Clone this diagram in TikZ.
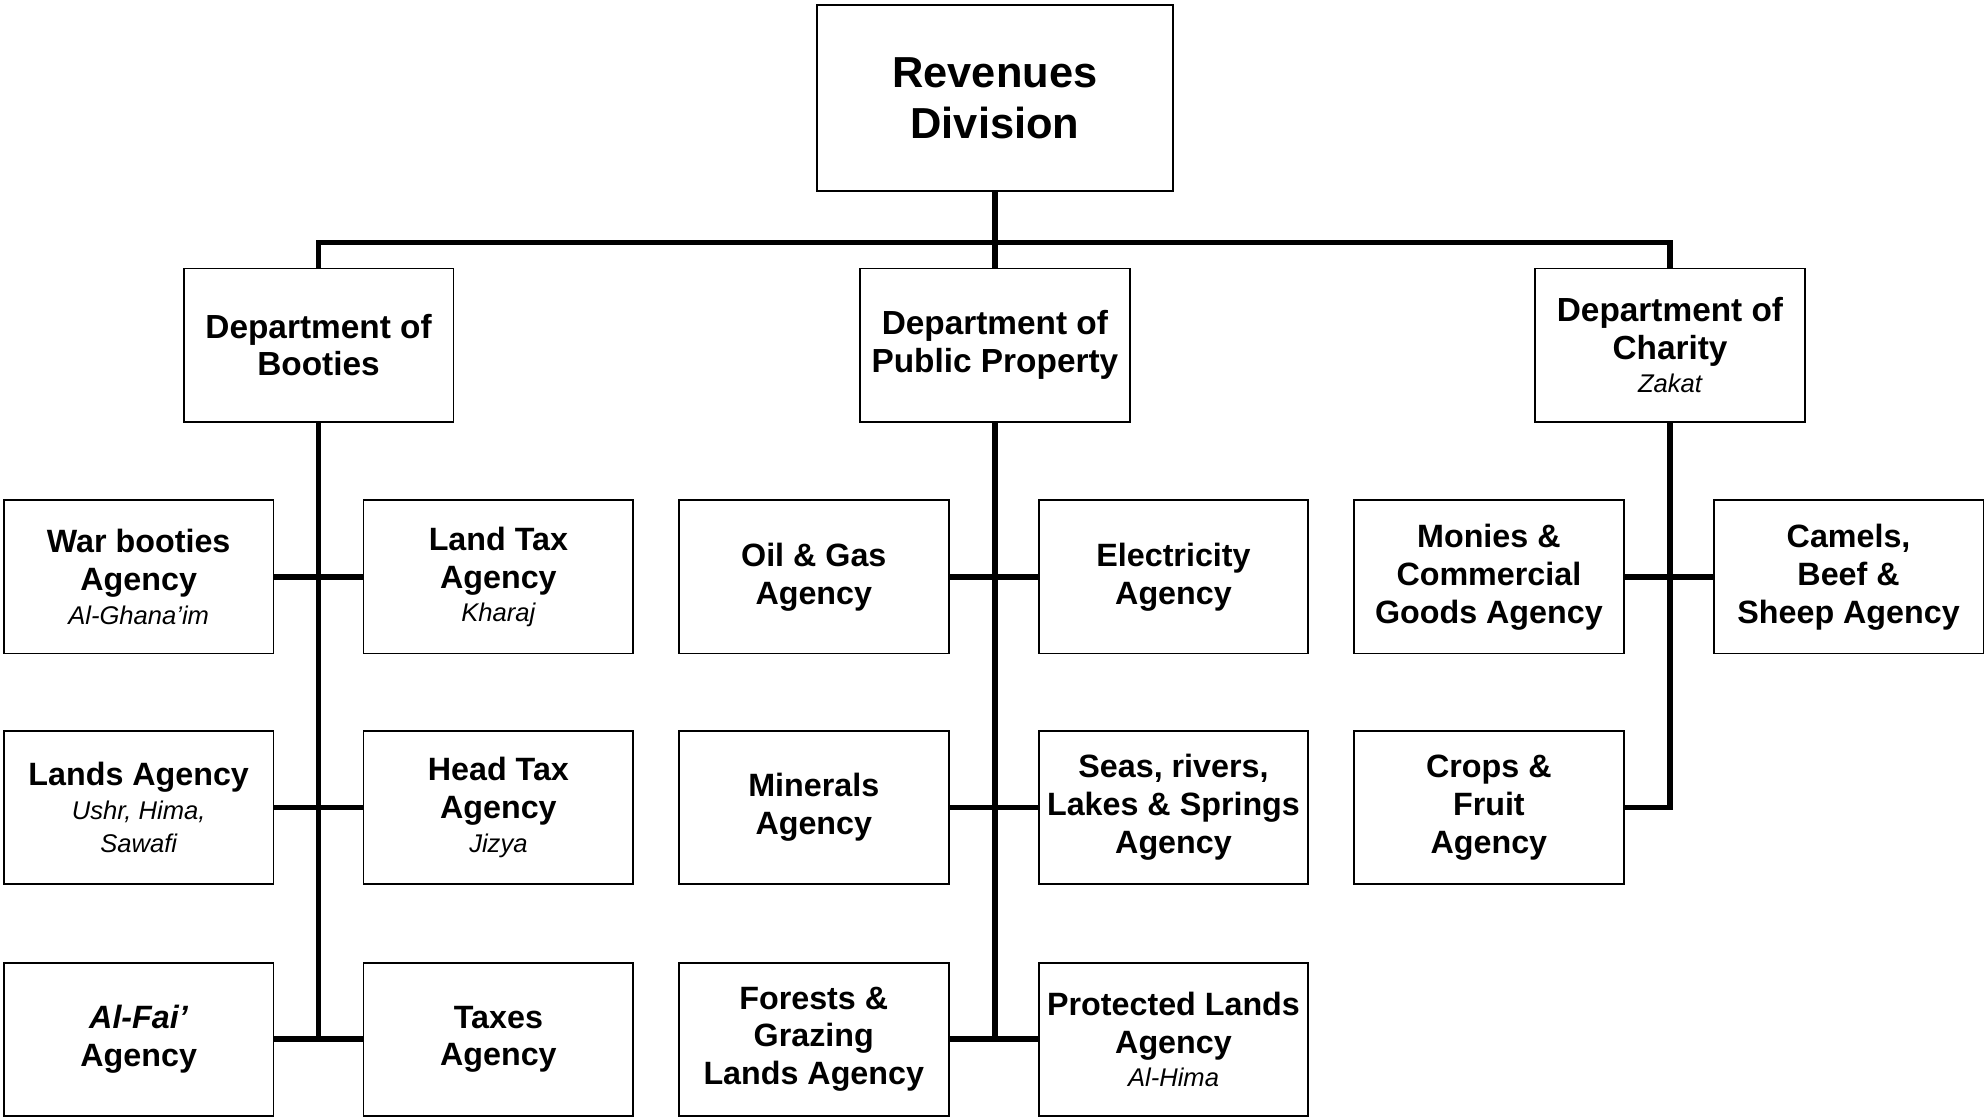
\documentclass[tikz,border=0pt]{standalone}
\usepackage{fontspec}
\setmainfont{Liberation Sans}

\newcommand{\subname}[1]{{\mdseries\itshape\fontsize{11.5}{14}\selectfont #1}}

\begin{document}
\begin{tikzpicture}[x=0.02cm, y=-0.02cm,
  box/.style={draw, line width=0.8pt, minimum width=4.26cm, minimum height=2.42cm,
    align=center, inner sep=1pt, font=\bfseries\fontsize{14.5}{17}\selectfont},
  dept/.style={box, font=\bfseries\fontsize{15}{17}\selectfont},
  top/.style={box, minimum width=5.62cm, minimum height=2.94cm,
    font=\bfseries\fontsize{19.5}{22.8}\selectfont},
  conn/.style={line width=2.5pt}]
\useasboundingbox (0,0) rectangle (1568,882);

\node[top] (rev) at (785.5,77.5) {Revenues\\Division};

\node[dept] (booties) at (251.5,272.5) {Department of\\Booties};
\node[dept] (public) at (785.5,272.5) {Department of\\Public Property};
\node[dept] (charity) at (1318.5,272.5) {Department of\\Charity\\[-2pt] \subname{Zakat}};

\node[box] (warb) at (109.5,455.5) {War booties\\Agency\\[-2pt] \subname{Al-Ghana’im}};
\node[box] (landtax) at (393.5,455.5) {Land Tax\\Agency\\[-2pt] \subname{Kharaj}};
\node[box] (lands) at (109.5,637.5) {Lands Agency\\[-2pt] \subname{Ushr,  Hima,}\\[-2pt] \subname{Sawafi}};
\node[box] (headtax) at (393.5,637.5) {Head Tax\\Agency\\[-2pt] \subname{Jizya}};
\node[box] (fai) at (109.5,820.5) {\textit{Al-Fai’}\\Agency};
\node[box] (taxes) at (393.5,820.5) {Taxes\\Agency};

\node[box] (oilgas) at (642.5,455.5) {Oil \& Gas\\Agency};
\node[box] (elec) at (926.5,455.5) {Electricity\\Agency};
\node[box] (minerals) at (642.5,637.5) {Minerals\\Agency};
\node[box] (seas) at (926.5,637.5) {Seas, rivers,\\Lakes \& Springs\\Agency};
\node[box] (forests) at (642.5,820.5) {Forests \&\\Grazing\\Lands Agency};
\node[box] (protected) at (926.5,820.5) {Protected Lands\\Agency\\[-2pt] \subname{Al-Hima}};

\node[box] (monies) at (1175.5,455.5) {Monies \&\\Commercial\\Goods Agency};
\node[box] (camels) at (1459.5,455.5) {Camels,\\Beef \&\\Sheep Agency};
\node[box] (crops) at (1175.5,637.5) {Crops \&\\Fruit\\Agency};

\draw[conn] (rev.south) -- (public.north);
\draw[conn] (booties.north) -- ++(0,-20) -| (charity.north);

\draw[conn] (booties.south) -- (booties.south |- fai.east);
\draw[conn] (warb.east) -- (landtax.west);
\draw[conn] (lands.east) -- (headtax.west);
\draw[conn] (fai.east) -- (taxes.west);

\draw[conn] (public.south) -- (public.south |- forests.east);
\draw[conn] (oilgas.east) -- (elec.west);
\draw[conn] (minerals.east) -- (seas.west);
\draw[conn] (forests.east) -- (protected.west);

\draw[conn] (monies.east) -- (camels.west);
\draw[conn] (charity.south) |- (crops.east);
\end{tikzpicture}
\end{document}
